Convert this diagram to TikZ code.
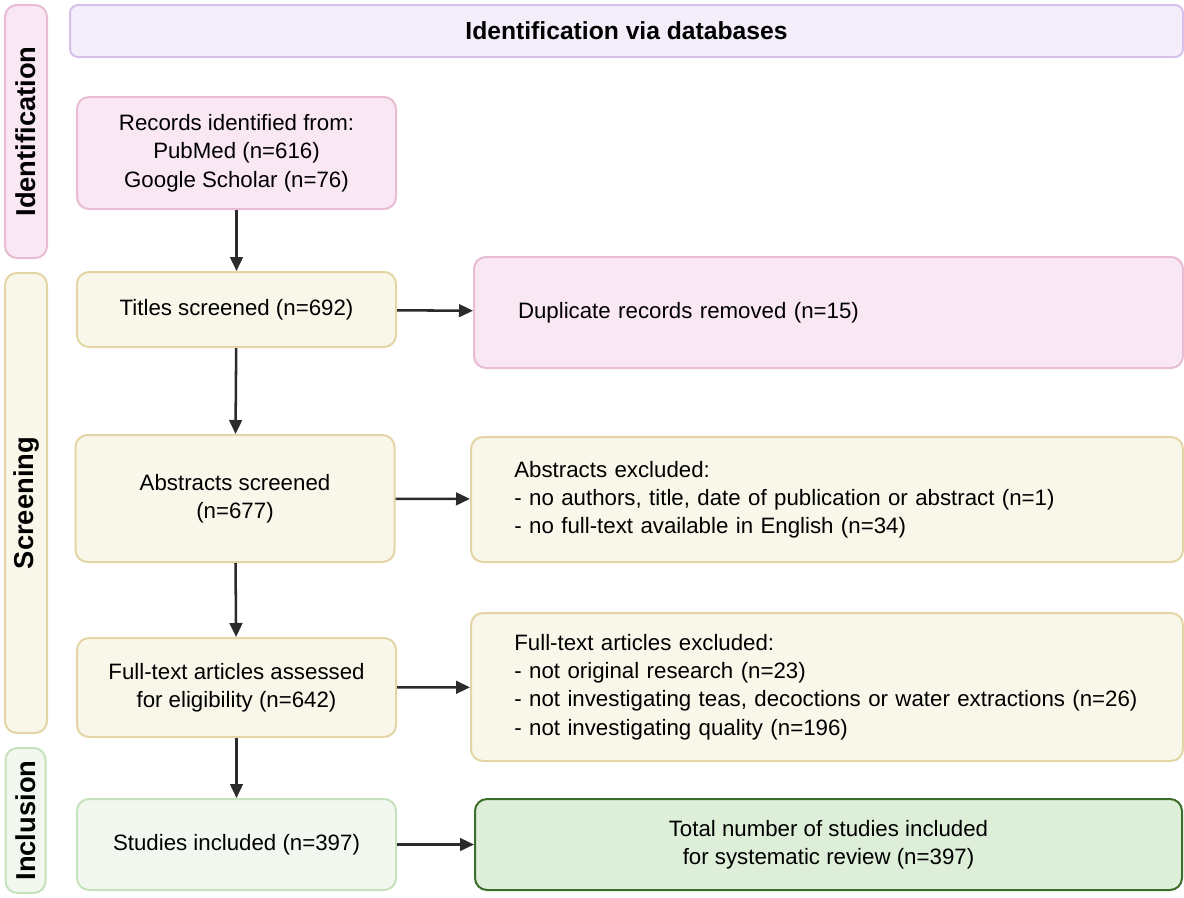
\documentclass[tikz,border=0pt]{standalone}
\usepackage{fontspec}
\setmainfont{Liberation Sans}
\usetikzlibrary{positioning, shapes, arrows.meta}

\definecolor{pinkfill}{HTML}{F9E8F3}
\definecolor{pinkline}{HTML}{E8BCD2}
\definecolor{yelfill}{HTML}{F8F7EA}
\definecolor{yelline}{HTML}{E3D5A4}
\definecolor{grnfill}{HTML}{F2F8F0}
\definecolor{grnline}{HTML}{C5E2BC}
\definecolor{totfill}{HTML}{DDEFD8}
\definecolor{totline}{HTML}{3A6E2A}
\definecolor{purfill}{HTML}{F3EEFA}
\definecolor{purline}{HTML}{D7C1EA}
\definecolor{arrowcol}{HTML}{2B2B2B}

\tikzset{box/.style={draw, rounded corners=9pt, line width=1.5pt, align=center, inner sep=4pt,
    font=\fontsize{16.7}{21.2}\selectfont}}
\tikzset{leftbox/.style={box, minimum width=239.25pt}}
\tikzset{sidelab/.style={box, rotate=90, minimum height=31.5pt, font=\fontsize{20.5}{22}\selectfont\bfseries}}
\tikzset{exclbox/.style={box, align=left, inner xsep=32.5pt, text width=469pt}}

\begin{document}
\begin{tikzpicture}[x=0.75pt, y=-0.75pt, >={Triangle[length=10.5pt, width=9.5pt]},
    flow/.style={->, draw=arrowcol, fill=arrowcol, line width=1.9pt}]
  \useasboundingbox (0,0) rectangle (1184,897);

  % phase labels down the left side
  \node[sidelab, fill=pinkfill, draw=pinkline, minimum width=189.75pt] (idlab) at (26,131.5) {Identification};
  \node[sidelab, fill=yelfill, draw=yelline, minimum width=345pt] (scrlab) at (26,503) {Screening};
  \node[sidelab, fill=grnfill, draw=grnline, minimum width=108.75pt, minimum height=30pt] (inclab) at (25.5,820.5) {Inclusion};

  \node[box, fill=purfill, draw=purline, minimum width=834.75pt, minimum height=39pt,
    rounded corners=6pt, font=\fontsize{18.5}{20}\selectfont\bfseries] (title) at (626.5,31) {Identification via databases};

  % main column
  \node[leftbox, fill=pinkfill, draw=pinkline, minimum height=84pt] (records) at (236.5,153)
    {Records identified from:\\PubMed (n=616)\\Google Scholar (n=76)};
  \node[leftbox, fill=yelfill, draw=yelline, minimum height=56.25pt] (titles) at (236.5,309.5)
    {Titles screened (n=692)};
  \node[leftbox, fill=yelfill, draw=yelline, minimum height=95.25pt] (abstracts) at (235,498.5)
    {Abstracts screened\\(n=677)};
  \node[leftbox, fill=yelfill, draw=yelline, minimum height=74.25pt] (fulltext) at (236.5,687.5)
    {Full-text articles assessed\\for eligibility (n=642)};
  \node[leftbox, fill=grnfill, draw=grnline, minimum height=68.25pt] (studies) at (236.5,844.5)
    {Studies included (n=397)};

  % right column
  \node[exclbox, fill=pinkfill, draw=pinkline, minimum height=83.25pt, text width=465.75pt, inner xsep=33pt] (dups) at (828.5,312.5)
    {Duplicate records removed (n=15)};
  \node[exclbox, fill=yelfill, draw=yelline, minimum height=93.75pt] (absexcl) at (827,499.5)
    {Abstracts excluded:\\- no authors, title, date of publication or abstract (n=1)\\- no full-text available in English (n=34)};
  \node[exclbox, fill=yelfill, draw=yelline, minimum height=111pt] (fullexcl) at (827,687)
    {Full-text articles excluded:\\- not original research (n=23)\\- not investigating teas, decoctions or water extractions (n=26)\\- not investigating quality (n=196)};
  \node[box, fill=totfill, draw=totline, minimum width=530.25pt, minimum height=68.25pt] (total) at (828.5,844.5)
    {Total number of studies included\\for systematic review (n=397)};

  \draw[flow] (records) -- (titles);
  \draw[flow] (titles) -- (abstracts);
  \draw[flow] (abstracts) -- (fulltext);
  \draw[flow] (fulltext) -- (studies);
  \draw[flow] (titles) -- (dups);
  \draw[flow] (abstracts) -- (absexcl);
  \draw[flow] (fulltext) -- (fullexcl);
  \draw[flow] (studies) -- (total);
\end{tikzpicture}
\end{document}
